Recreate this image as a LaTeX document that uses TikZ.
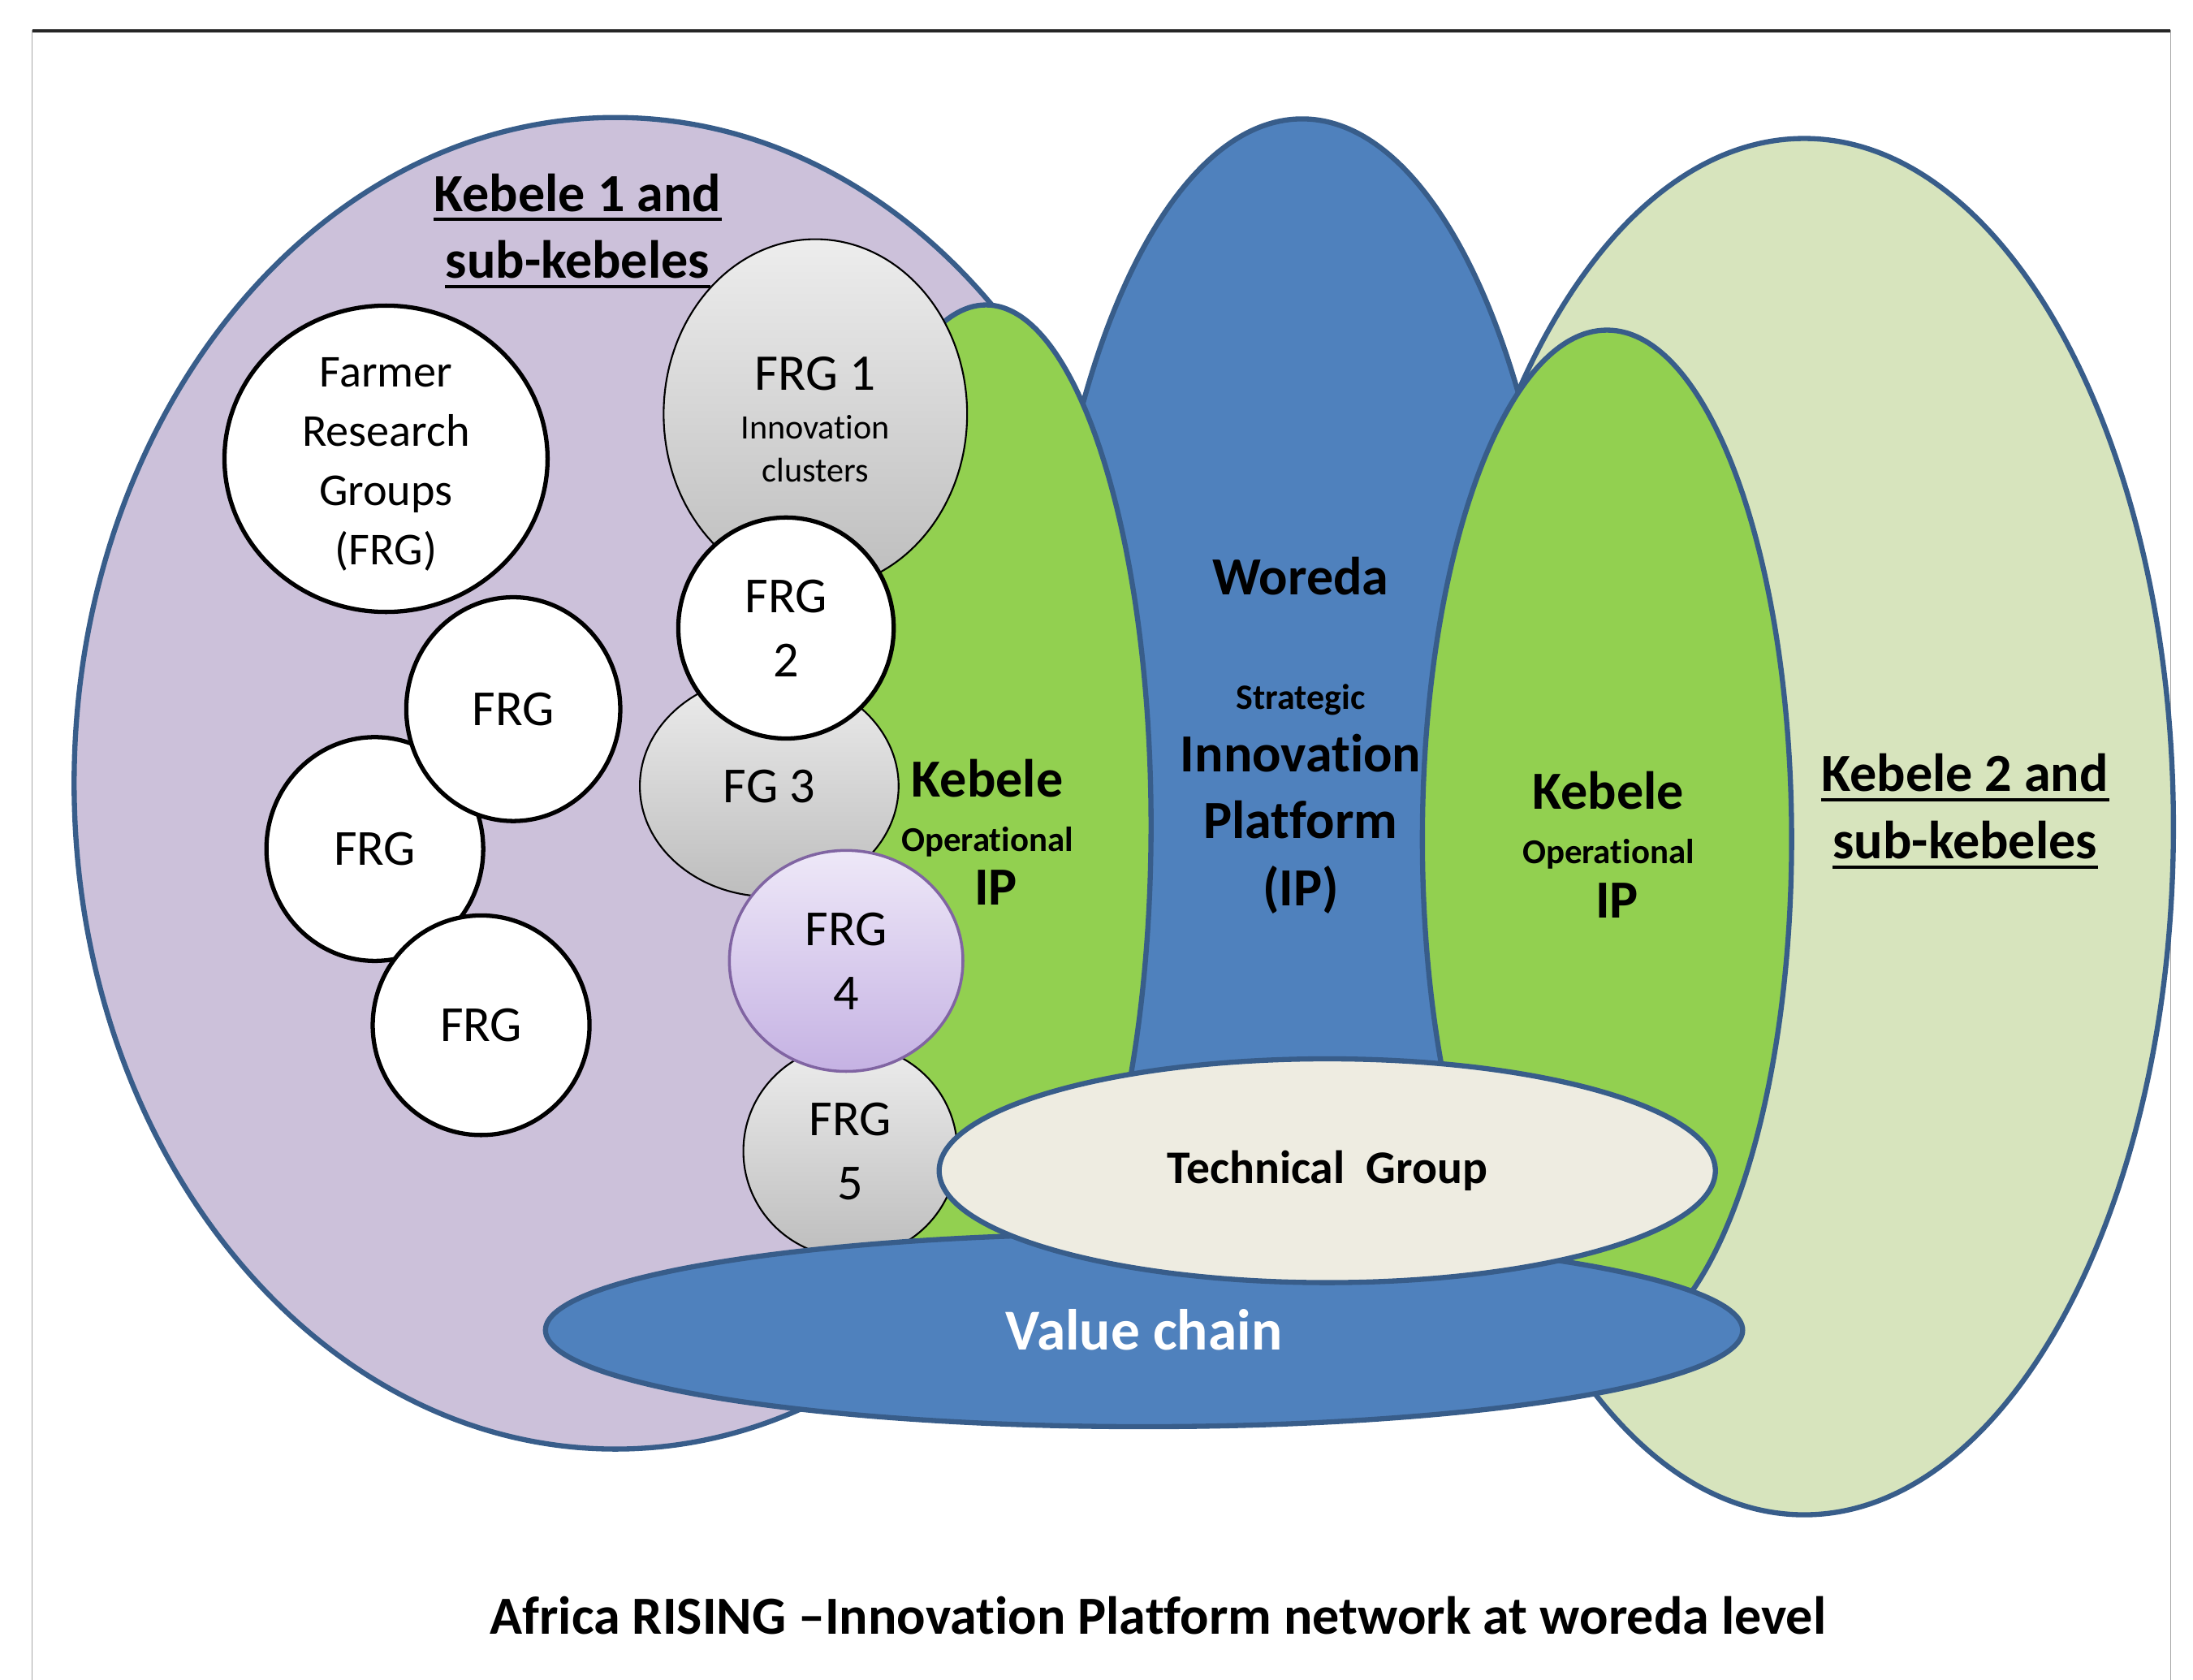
\documentclass[tikz,border=0pt]{standalone}
\usepackage{fontspec}
\setmainfont{Carlito}[Ligatures={NoCommon}]
\usepackage{tikz}
\usetikzlibrary{shapes.geometric}

\newlength\px
\setlength\px{0.017226cm}

\definecolor{edgeblue}{HTML}{385D8A}
\definecolor{kebpurple}{HTML}{CCC1DA}
\definecolor{kebpale}{HTML}{D7E4BD}
\definecolor{woredablue}{HTML}{4F81BD}
\definecolor{opgreen}{HTML}{92D050}
\definecolor{techfill}{HTML}{EEECE1}
\definecolor{greytop}{HTML}{EDEDED}
\definecolor{greybot}{HTML}{BDBDBD}
\definecolor{lilactop}{HTML}{EEE8F8}
\definecolor{lilacbot}{HTML}{C5B2E3}
\definecolor{lilacedge}{HTML}{8064A2}

\begin{document}
\begin{tikzpicture}[x=0.017226cm, y=-0.017226cm,
    zone/.style={ellipse, draw=edgeblue, line width=1.8pt, inner sep=0pt},
    frgwhite/.style={ellipse, draw=black, line width=1.5pt, fill=white, inner sep=0pt,
        align=center, font=\fontsize{17.7}{22.5}\selectfont},
    frggrey/.style={ellipse, draw=black, line width=0.6pt, top color=greytop,
        bottom color=greybot, inner sep=0pt, align=center,
        font=\fontsize{17.7}{22.5}\selectfont},
    heading/.style={inner sep=0pt, anchor=base, font=\bfseries\fontsize{18.8}{23.5}\selectfont},
    biglabel/.style={inner sep=0pt, align=center, font=\bfseries\fontsize{18.8}{23.5}\selectfont},
    underbar/.style={line width=1.2pt, black}]

    \useasboundingbox (0,0) rectangle (1568,1201);

    % Frame
    \draw[gray!70, line width=0.5pt] (23,1215) -- (23,22) -- (1552,22) -- (1552,1215);
    \draw[black!85, line width=1pt] (23,22) -- (1552,22);

    % Kebele areas and platforms
    \node[zone, fill=kebpurple, minimum width=774\px, minimum height=952\px] (kebA) at (440,560) {};
    \node[zone, fill=kebpale, minimum width=528\px, minimum height=984\px] (kebB) at (1290,591) {};
    \node[zone, fill=woredablue, minimum width=376\px, minimum height=910\px] (woreda) at (931,540) {};
    \node[zone, fill=opgreen, minimum width=236\px, minimum height=744\px] (opA) at (705,590) {};
    \node[zone, fill=opgreen, minimum width=264\px, minimum height=728\px] (opB) at (1149,600) {};

    % Headings with underline
    \node[heading] (kebAtop) at (413,151) {Kebele 1 and\hspace{0.25em}};
    \node[heading] (kebAbot) at (413,199) {sub-kebeles};
    \node[heading] (kebBtop) at (1405,566) {Kebele 2 and\hspace{0.25em}};
    \node[heading] (kebBbot) at (1405,614) {sub-kebeles};
    \foreach \t in {kebAtop, kebAbot, kebBtop, kebBbot}
        \draw[underbar] ([yshift=-2.9pt]\t.base west) -- ([yshift=-2.9pt]\t.base east);

    % Woreda platform text
    \node[heading] (woredaTxt) at (930,425) {Woreda};
    \node[heading, font=\bfseries\fontsize{12.5}{15}\selectfont] (stratTxt) at (930,507) {Strategic};
    \node[biglabel] (ipTxt) at (930,589) {Innovation\\Platform\\(IP)};

    % Operational IPs
    \node[biglabel, font=\bfseries\fontsize{18.8}{19}\selectfont] (opAtxt) at (706,595)
        {Kebele\\{\fontsize{12.2}{19}\selectfont Operational}\\\hspace{6pt}IP};
    \node[biglabel, font=\bfseries\fontsize{18.8}{19}\selectfont] (opBtxt) at (1150,604)
        {Kebele\\{\fontsize{12.2}{19}\selectfont Operational}\\\hspace{6pt}IP};

    % Farmer research groups
    \node[frgwhite, minimum width=155\px, minimum height=160\px] (frgY) at (268,607) {FRG};
    \node[frgwhite, minimum width=153\px, minimum height=160\px] (frgX) at (367,507) {FRG};
    \node[frgwhite, minimum width=155\px, minimum height=157\px] (frgZ) at (344,733) {FRG};
    \node[frgwhite, minimum width=231\px, minimum height=219\px] (frgMain) at (276,328) {};
    \node[inner sep=0pt, align=center, font=\fontsize{16}{20.7}\selectfont] (frgMainTxt)
        at (276,332) {Farmer\\Research\\Groups\\(FRG)};

    % Innovation clusters
    \node[frggrey, minimum width=217\px, minimum height=250\px] (frg1) at (583,296) {};
    \node[inner sep=0pt, align=center, font=\fontsize{12}{15.2}\selectfont] (frg1Txt) at (583,300)
        {{\fontsize{18}{18}\selectfont FRG 1}\\[1.8pt]Innovation\\clusters};
    \node[frggrey, minimum width=185\px, minimum height=158\px] (fg3) at (550,562) {FG 3};
    \node[frgwhite, minimum width=154\px, minimum height=158\px] (frg2) at (562,449) {FRG\\2};
    \node[frggrey, minimum width=153\px, minimum height=152\px] (frg5) at (608,823) {FRG\\5};
    \node[frggrey, draw=lilacedge, line width=1pt, top color=lilactop, bottom color=lilacbot,
        minimum width=167\px, minimum height=158\px] (frg4) at (605,687) {FRG\\4};

    % Value chain and technical group
    \node[zone, fill=woredablue, minimum width=856\px, minimum height=138\px, text=white,
        font=\bfseries\fontsize{20.3}{24}\selectfont] (chain) at (818,951) {Value chain};
    \node[zone, fill=techfill, minimum width=555\px, minimum height=160\px,
        font=\bfseries\fontsize{16.4}{20}\selectfont] (tech) at (949,837) {Technical~~Group};

    % Caption
    \node[biglabel] (caption) at (828,1155) {Africa RISING –Innovation Platform network at woreda level};
\end{tikzpicture}
\end{document}
